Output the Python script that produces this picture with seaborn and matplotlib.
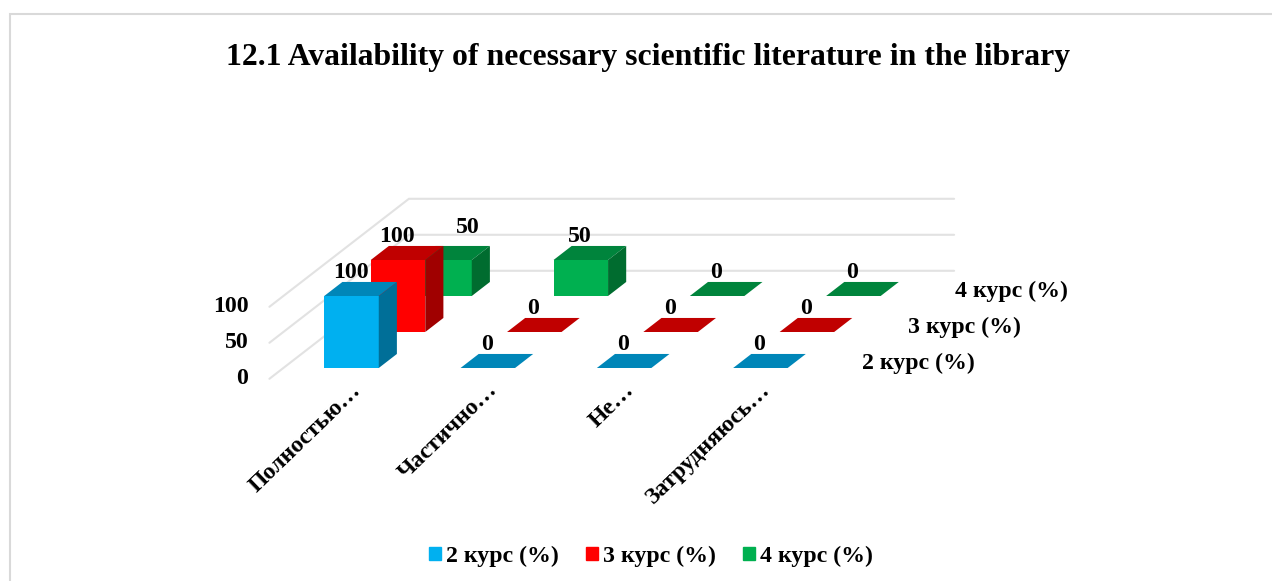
import numpy as np
import matplotlib
matplotlib.use("Agg")
import matplotlib.pyplot as plt
from matplotlib.lines import Line2D
from matplotlib.patches import Patch
import seaborn as sns

# ---- data -----------------------------------------------------------------
categories = ["Полностью…", "Частично…", "Не…", "Затрудняюсь…"]
series_names = ["2 курс (%)", "3 курс (%)", "4 курс (%)"]
kurs2 = [100, 0, 0, 0]
kurs3 = [100, 0, 0, 0]
kurs4 = [50, 50, 0, 0]
value_ticks = [0, 50, 100]
title = "12.1 Availability of necessary scientific literature in the library"

# ---- styles ---------------------------------------------------------------
front_colors = ["#00B0F0", "#FF0000", "#00B050"]
top_colors = ["#0086B8", "#C00000", "#00843C"]
side_colors = ["#006F98", "#A00000", "#006C2F"]
grid_color = "#E2E2E2"
FS = 17.2

sns.set_theme(style="white")
plt.rcParams["font.family"] = ["Liberation Serif", "DejaVu Serif"]
plt.rcParams["font.weight"] = "bold"
plt.rcParams["text.color"] = "black"

W, H = 1272, 581
fig = plt.figure(figsize=(W / 100, H / 100), dpi=100)
ax = fig.add_axes([0, 0, 1, 1])

# oblique projection of (category, series depth, value) onto the 2D axes
PX_CAT, PX_VAL = 136.3, 0.72
SHIFT_X, SHIFT_Y = 46.5 / PX_CAT, 36 / PX_VAL
BAR_W = 0.40
DEPTH = 0.39  # bar depth as a fraction of one series step


def proj(cat, s, val):
    return cat + s * SHIFT_X, val + s * SHIFT_Y


all_series = [kurs2, kurs3, kurs4]
cats = np.arange(len(categories))

# walls / grid lines
S0, S1 = -0.3, 2.7
for v in value_ticks:
    a = proj(-0.5, S0, v)
    b = proj(-0.5, S1, v)
    c = proj(3.5, S1, v)
    ax.plot([a[0], b[0], c[0]], [a[1], b[1], c[1]], color=grid_color, lw=1.5, zorder=1,
            solid_joinstyle="miter")

# bars, back to front
for s in (2, 1, 0):
    vals = np.array(all_series[s], dtype=float)
    z = 10 + (2 - s)
    xs, bottoms = proj(cats, s, 0)
    sns.barplot(x=xs, y=vals, native_scale=True, width=BAR_W, bottom=float(s * SHIFT_Y),
                color=front_colors[s], saturation=1, errorbar=None, ax=ax,
                linewidth=0, zorder=z)
    for c, v in zip(cats, vals):
        l, r = c - BAR_W / 2, c + BAR_W / 2
        # top face
        pts = [proj(l, s, v), proj(r, s, v), proj(r, s + DEPTH, v), proj(l, s + DEPTH, v)]
        ax.fill(*zip(*pts), color=top_colors[s], lw=0, zorder=z)
        if v > 0:
            pts = [proj(r, s, 0), proj(r, s + DEPTH, 0), proj(r, s + DEPTH, v), proj(r, s, v)]
            ax.fill(*zip(*pts), color=side_colors[s], lw=0, zorder=z)
        # data label
        dx, dy = (-1, 24)
        if s == 2 and c == 0:
            dx, dy = (23, 33)   # label moved aside in the original
        ax.annotate(f"{int(v)}", proj(c, s, v), xytext=(dx * 0.72, dy * 0.72),
                    textcoords="offset points", ha="center", va="center",
                    fontsize=FS, fontweight="bold", color="black", zorder=30)

# value tick labels
for v in value_ticks:
    ax.annotate(f"{v}", proj(-0.5, S0, v), xytext=(-21 * 0.72, 0),
                textcoords="offset points", ha="right", va="center", fontsize=FS,
                fontweight="bold", color="black")

# series (depth) labels
for s, name in enumerate(series_names):
    ax.annotate(name, proj(3.5, s, 0), xytext=(33 * 0.72, 5 * 0.72),
                textcoords="offset points", ha="left", va="center", fontsize=FS,
                fontweight="bold", color="black")

# category labels
for c, name in zip(cats, categories):
    ax.annotate(name, proj(c, S0, 0), xytext=(13 * 0.72, -1 * 0.72),
                textcoords="offset points", ha="right", va="top", rotation=44,
                rotation_mode="anchor", fontsize=FS, fontweight="bold", color="black")

# limits so that the projection lands where the picture needs it
X0, Y0 = 351.5, 368
ax.set_xlim(-X0 / PX_CAT, (W - X0) / PX_CAT)
ax.set_ylim(-(H - Y0) / PX_VAL, Y0 / PX_VAL)
ax.axis("off")

# title, legend, frame
fig.text(647.5 / W, 1 - 58 / H, title, ha="center", va="center", fontsize=22.9,
         fontweight="bold", color="black")
handles = [Patch(color=col, label=n) for col, n in zip(front_colors, series_names)]
leg = fig.legend(handles=handles, loc="center", bbox_to_anchor=(651 / W, 1 - 556.5 / H), ncol=3,
                 frameon=False, fontsize=17.2, handlelength=0.5, handleheight=0.5,
                 handletextpad=0.2, columnspacing=1.15, labelcolor="black")
frame_x, frame_y = 10 / W, 1 - 14 / H
fig.add_artist(Line2D([frame_x, frame_x, 1], [0, frame_y, frame_y], transform=fig.transFigure,
                      color="#D9D9D9", lw=1.5, solid_joinstyle="miter"))

fig.savefig("out.png", dpi=100)
